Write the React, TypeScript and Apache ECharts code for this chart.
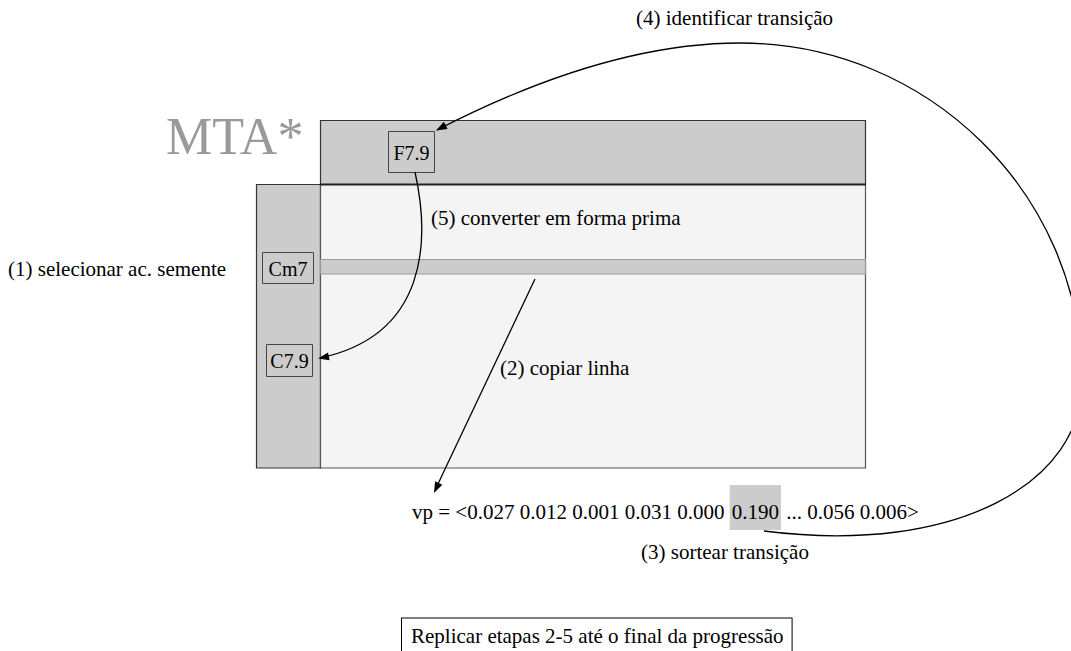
import React, { useEffect, useRef } from "react";
import * as echarts from "echarts";

const titleText = "MTA*";
const chordLabels = ["F7.9", "Cm7", "C7.9"];
const stepLabels = [
  "(1) selecionar ac. semente",
  "(2) copiar linha",
  "(3) sortear transição",
  "(4) identificar transição",
  "(5) converter em forma prima",
];
const vpValues = ["0.027", "0.012", "0.001", "0.031", "0.000", "0.190", "...", "0.056", "0.006"];
const selectedIndex = 5;
const footerText = "Replicar etapas 2-5 até o final da progressão";

const FONT = '"Liberation Serif", "Times New Roman", serif';

type P = [number, number];

function arrowHead(tip: P, from: P, len = 11, half = 4) {
  const dx = tip[0] - from[0];
  const dy = tip[1] - from[1];
  const d = Math.hypot(dx, dy);
  const ux = dx / d;
  const uy = dy / d;
  const bx = tip[0] - ux * len;
  const by = tip[1] - uy * len;
  return {
    type: "polygon",
    shape: {
      points: [
        [tip[0], tip[1]],
        [bx - uy * half, by + ux * half],
        [bx + uy * half, by - ux * half],
      ],
    },
    style: { fill: "#000" },
    z: 20,
  };
}

function bez(p0: P, c1: P, c2: P, p1: P) {
  return {
    type: "bezierCurve",
    shape: { x1: p0[0], y1: p0[1], cpx1: c1[0], cpy1: c1[1], cpx2: c2[0], cpy2: c2[1], x2: p1[0], y2: p1[1] },
    style: { stroke: "#000", lineWidth: 1.3, fill: null },
    z: 15,
  };
}

function label(text: string, x: number, y: number, size = 21, extra: any = {}) {
  return {
    type: "text",
    x,
    y,
    style: { text, font: `${size}px ${FONT}`, fill: "#000", align: "left", verticalAlign: "middle", ...extra },
    z: 10,
  };
}

function chordBox(text: string, x: number, y: number, w: number, h: number) {
  return [
    {
      type: "rect",
      shape: { x: x + 0.5, y: y + 0.5, width: w, height: h },
      style: { fill: "#cccccc", stroke: "#444", lineWidth: 1 },
      z: 5,
    },
    {
      type: "text",
      x: x + w / 2 + 0.5,
      y: y + h / 2 + 1,
      style: { text, font: `20px ${FONT}`, fill: "#000", align: "center", verticalAlign: "middle" },
      z: 6,
    },
  ];
}

export default function App() {
  const ref = useRef<HTMLDivElement>(null);
  useEffect(() => {
    if (!ref.current) return;
    const chart = echarts.init(ref.current, null, { renderer: "svg" });

    const vpX = 412;
    const vpFont = `21px ${FONT}`;
    const hlPad = 2;
    const vpText =
      "vp = <" +
      vpValues.map((v, i) => (i === selectedIndex ? `{hl|${v}}` : v)).join(" ") +
      ">";

    // measure where the selected value sits so the highlight follows the text
    const ctx = document.createElement("canvas").getContext("2d")!;
    ctx.font = vpFont;
    const prefix = "vp = <" + vpValues.slice(0, selectedIndex).join(" ") + " ";
    const hlX = vpX + ctx.measureText(prefix).width;
    const hlW = ctx.measureText(vpValues[selectedIndex]).width + 2 * hlPad;

    const graphics: any[] = [
      // panels
      {
        type: "rect",
        shape: { x: 256.5, y: 184.5, width: 64, height: 283.5 },
        style: { fill: "#cccccc", stroke: "#333", lineWidth: 1.2 },
        z: 1,
      },
      {
        type: "rect",
        shape: { x: 320.5, y: 120.5, width: 545, height: 64 },
        style: { fill: "#cccccc", stroke: "#333", lineWidth: 1.2 },
        z: 1,
      },
      {
        type: "rect",
        shape: { x: 320.5, y: 184.5, width: 545, height: 283.5 },
        style: { fill: "#f4f4f4", stroke: "#555", lineWidth: 1.2 },
        z: 1,
      },
      {
        type: "rect",
        shape: { x: 320.5, y: 259.5, width: 545, height: 14.5 },
        style: { fill: "#cccccc", stroke: "#999", lineWidth: 1.2 },
        z: 2,
      },
      {
        type: "line",
        shape: { x1: 320, y1: 184.5, x2: 866, y2: 184.5 },
        style: { stroke: "#222", lineWidth: 2.2 },
        z: 3,
      },
      // title
      {
        type: "text",
        x: 166,
        y: 136,
        style: { text: titleText, font: `52px ${FONT}`, fill: "#999", align: "left", verticalAlign: "middle" },
        z: 10,
      },
      ...chordBox(chordLabels[0], 388, 131, 46, 41),
      ...chordBox(chordLabels[1], 262, 252, 51, 31),
      ...chordBox(chordLabels[2], 266, 344, 46, 32),
      label(stepLabels[0], 8, 269),
      label(stepLabels[1], 500, 368),
      label(stepLabels[2], 641, 552),
      label(stepLabels[3], 636, 18),
      label(stepLabels[4], 431, 218),
      // highlight of the drawn transition
      {
        type: "rect",
        shape: { x: hlX, y: 485, width: hlW, height: 45 },
        style: { fill: "#cccccc" },
        z: 8,
      },
      // vp vector
      {
        type: "text",
        x: vpX,
        y: 512,
        style: {
          text: vpText,
          font: vpFont,
          fill: "#000",
          align: "left",
          verticalAlign: "middle",
          rich: {
            hl: {
              font: vpFont,
              fill: "#000",
              padding: [0, hlPad, 0, hlPad],
            },
          },
        },
        z: 10,
      },
      // footer
      {
        type: "text",
        x: 402,
        y: 636,
        style: {
          text: footerText,
          font: `21px ${FONT}`,
          fill: "#000",
          align: "left",
          verticalAlign: "middle",
          backgroundColor: "#fff",
          borderColor: "#000",
          borderWidth: 1,
          padding: [0, 8, 14, 9],
        },
        z: 10,
      },
      // (2) copy row arrow
      {
        type: "line",
        shape: { x1: 535, y1: 279, x2: 437, y2: 486 },
        style: { stroke: "#000", lineWidth: 1.3 },
        z: 15,
      },
      arrowHead([434, 493], [535, 279]),
      // (5) convert arrow
      bez([415, 172], [430, 240], [428, 335], [320, 358]),
      arrowHead([318, 358.5], [400, 342]),
      // (3)-(4) big loop
      bez([764, 531], [960, 556], [1084, 480], [1082, 380]),
      bez([1082, 380], [1082, 194], [928, 43], [740, 43]),
      bez([740, 43], [620, 43], [505, 95], [437, 130]),
      arrowHead([436, 130.5], [500, 97]),
    ];

    chart.setOption({
      animation: false,
      graphic: { elements: graphics },
    });
    return () => chart.dispose();
  }, []);

  return (
    <div
      ref={ref}
      style={{ position: "fixed", left: 0, top: 0, width: 1071, height: 651, background: "#fff" }}
    />
  );
}
